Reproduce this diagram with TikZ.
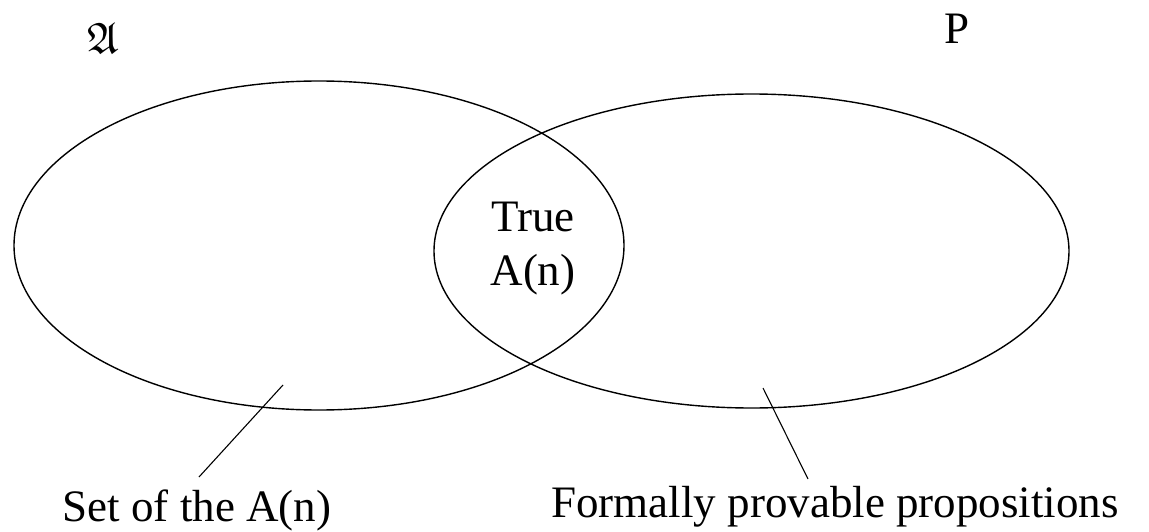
\documentclass[tikz,border=0pt]{standalone}
\usepackage{amssymb}
\usepackage{fontspec}
\setmainfont{Liberation Serif}
\begin{document}
\begin{tikzpicture}[x=1pt,y=-1pt,
  outline/.style={draw=black,line width=1.4pt},
  leader/.style={draw=black,line width=1.1pt},
  lbl/.style={inner sep=0pt,anchor=base,font=\fontsize{45}{54}\selectfont}]
\useasboundingbox (0,0) rectangle (1149,532);
\draw[outline] (319,245.5) ellipse [x radius=305, y radius=164.5];
\draw[outline] (751.5,251) ellipse [x radius=317.5, y radius=157];
\node[inner sep=0pt,anchor=base] (frakA) at (103,54) {\fontsize{44}{44}\selectfont$\mathfrak{A}$};
\node[lbl] (P) at (957,44) {P};
\node[lbl] (true) at (533,231) {True};
\node[lbl] (an) at (533,285) {A(n)};
\node[lbl] (setlbl) at (197,521) {Set of the A(n)};
\node[lbl] (provlbl) at (835,517) {Formally provable propositions};
\coordinate (lin) at (283,385);
\coordinate (lout) at (199,477);
\coordinate (rin) at (763,388);
\coordinate (rout) at (808,479);
\draw[leader] (lin) -- (lout);
\draw[leader] (rin) -- (rout);
\end{tikzpicture}
\end{document}
